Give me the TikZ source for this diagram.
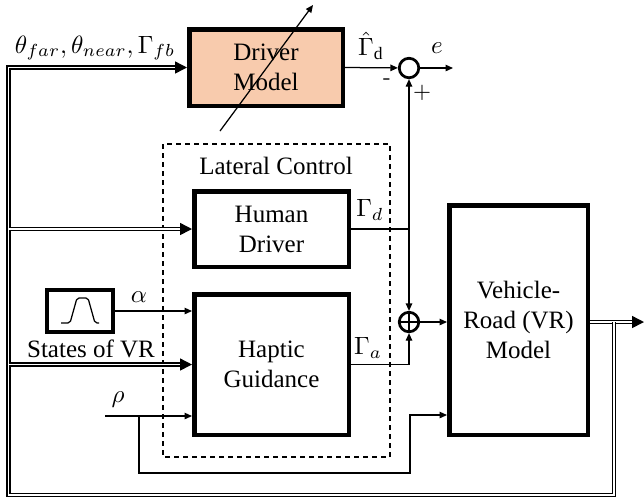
\documentclass[tikz,border=0pt]{standalone}
\usepackage{fontspec}
\setmainfont{Liberation Serif}
\usetikzlibrary{arrows.meta, positioning}
\definecolor{my_peach}{RGB}{248, 203, 173}
\tikzset {
  block/.style = {draw, line width=1.8pt, rectangle, align=center, inner sep=0pt, fill=white},
  sumnode/.style = {draw, line width=1.1pt, circle, minimum size=7.8pt, inner sep=0pt, fill=white},
  line/.style = {-{Triangle[length=3pt, width=2.6pt]}, line width=0.5pt},
  plain/.style = {line width=0.5pt},
  dline/.style = {double, double distance=0.55pt, line width=0.6pt, -{Triangle[length=4.8pt, width=4.8pt]}},
  lbl/.style = {inner sep=0pt},
  sign/.style = {inner sep=0pt, font=\sffamily\small}
}

\begin{document}
\begin{tikzpicture}[x=0.4pt, y=-0.4pt]
    \useasboundingbox (0,0) rectangle (644,502);

    % lateral control frame
    \draw[plain, dash pattern=on 2pt off 1.6pt] (163,144) rectangle (390,457);
    \node[lbl] (lat) at (276,166) {Lateral Control};

    % blocks
    \node[block, fill=my_peach, minimum width=61.4pt, minimum height=30.6pt] (dm) at (266,67.5) {Driver\\Model};
    \node[block, minimum width=61.8pt, minimum height=30.2pt] (hd) at (271.5,229) {Human\\Driver};
    \node[block, minimum width=61.8pt, minimum height=56.2pt] (hg) at (271.5,364.5) {Haptic\\Guidance};
    \node[block, minimum width=55.4pt, minimum height=91.8pt] (vr) at (518.5,320) {Vehicle-\\Road (VR)\\Model};
    \node[block, minimum width=26.4pt, minimum height=16.8pt] (pulse) at (80,311) {};
    \node[sumnode] (sa) at (409,68) {};
    \node[sumnode] (sb) at (409,322) {};
    \draw[plain] (sb.north) -- (sb.south) (sb.west) -- (sb.east);

    % pulse signal
    \draw[plain, rounded corners=0.8pt] (61,323) -- (70,323) -- (77,298) -- (88,298) -- (95,323) -- (99,323);

    % feedback loop
    \coordinate (vrout) at (644,322);
    \coordinate (fb1) at (614,322);
    \coordinate (fb2) at (8.5,495);
    \draw[dline] (sb -| vr.east) -- (vrout);
    \draw[dline] (fb1) |- (fb2) |- (dm.west);
    \draw[dline] (fb2 |- hd.west) -- (hd.west);
    \draw[dline] (fb2 |- hg.west) -- (hg.west);

    % torques
    \coordinate (eout) at (453,68);
    \coordinate (jd) at (409,229);
    \draw[line] (dm.east) -- (sa);
    \draw[line] (sa) -- (eout);
    \draw[plain] (hd.east) -- (jd);
    \draw[line] (jd) -- (sa);
    \draw[line] (jd) -- (sb);
    \draw[line] (hg.east) -| (sb);
    \draw[line] (sb) -- (sb -| vr.west);
    \draw[line] (pulse) -- (pulse -| hg.west);

    % rho input
    \coordinate (rho) at (105,416);
    \coordinate (rb) at (139,416);
    \coordinate (r1) at (139,473);
    \coordinate (r2) at (410,415);
    \draw[line] (rho) -- (rho -| hg.west);
    \draw[line] (rb) -- (r1) -| (r2) -- (r2 -| vr.west);

    % adaptation arrow
    \coordinate (adj1) at (220,131);
    \coordinate (adj2) at (313,5);
    \draw[line] (adj1) -- (adj2);

    % labels
    \node[lbl] (thlbl) at (95,48) {$\theta_{far},\theta_{near},\Gamma_{fb}$};
    \node[lbl] (gdhat) at (371,46) {$\hat{\Gamma}_{\mathrm{d}}$};
    \node[lbl] (elbl) at (437,48) {$e$};
    \node[sign] (minus) at (387,82) {-};
    \node[sign] (plus) at (422,93) {+};
    \node[lbl] (gd) at (370,210) {$\Gamma_d$};
    \node[lbl] (ga) at (368,348) {$\Gamma_a$};
    \node[lbl] (alpha) at (139,297) {$\alpha$};
    \node[lbl] (states) at (91,349) {States of VR};
    \node[lbl] (rholbl) at (118,400) {$\rho$};
  \end{tikzpicture}
\end{document}
